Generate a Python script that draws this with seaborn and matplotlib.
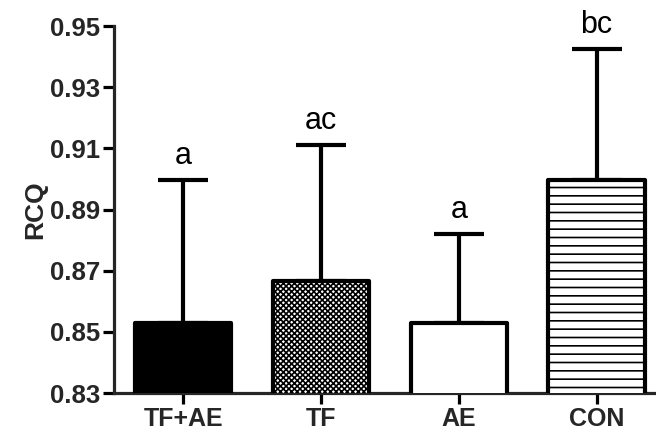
import matplotlib
matplotlib.use("Agg")
import matplotlib.pyplot as plt
import seaborn as sns
import pandas as pd
import numpy as np

groups = ["TF+AE", "TF", "AE", "CON"]
means = [0.8528, 0.8665, 0.8530, 0.8995]
upper = [0.8995, 0.9110, 0.8820, 0.9425]
letters = ["a", "ac", "a", "bc"]
fills = ["black", "white", "white", "white"]
hatches = ["", "xxxxxx", "", "--"]
yticks = [0.83, 0.85, 0.87, 0.89, 0.91, 0.93, 0.95]

sns.set_style("ticks")
plt.rcParams["font.family"] = ["Liberation Sans", "DejaVu Sans"]
plt.rcParams["hatch.linewidth"] = 1.2
plt.rcParams["hatch.color"] = "black"

df = pd.DataFrame({"group": groups, "RCQ": means})

fig = plt.figure(figsize=(6.56, 4.30), dpi=100)
ax = fig.add_axes([0.174, 0.086, 0.83, 0.8535])

sns.barplot(data=df, x="group", y="RCQ", order=groups, width=0.70,
            color="white", edgecolor="black", linewidth=3.0, ax=ax, zorder=3)
for p, fc, h in zip(ax.patches, fills, hatches):
    p.set_facecolor(fc)
    p.set_hatch(h)
    p.set_joinstyle("round")

x = np.arange(len(groups))
err = np.array(upper) - np.array(means)
ax.errorbar(x, means, yerr=[np.zeros_like(err), err], fmt="none",
            ecolor="black", elinewidth=3.0, capsize=18, capthick=3.0, zorder=2)

for xi, top, lab in zip(x, upper, letters):
    ax.text(xi, top + 0.0030, lab, ha="center", va="bottom", fontsize=22,
            color="black")

ax.set_ylim(0.83, 0.95)
ax.set_xlim(-0.5, 3.45)
ax.set_yticks(yticks)
ax.set_yticklabels([f"{t:.2f}" for t in yticks], fontsize=18.5, fontweight="bold")
ax.set_xticks(x)
ax.set_xticklabels(groups, fontsize=18, fontweight="bold")
ax.set_xlabel("")
ax.set_ylabel("RCQ", fontsize=19, fontweight="bold", labelpad=2)

for s in ["top", "right"]:
    ax.spines[s].set_visible(False)
for s in ["left", "bottom"]:
    ax.spines[s].set_linewidth(2.3)
ax.tick_params(axis="both", width=2.3, length=8, pad=2, color="black")

fig.savefig("out.png", dpi=100)
